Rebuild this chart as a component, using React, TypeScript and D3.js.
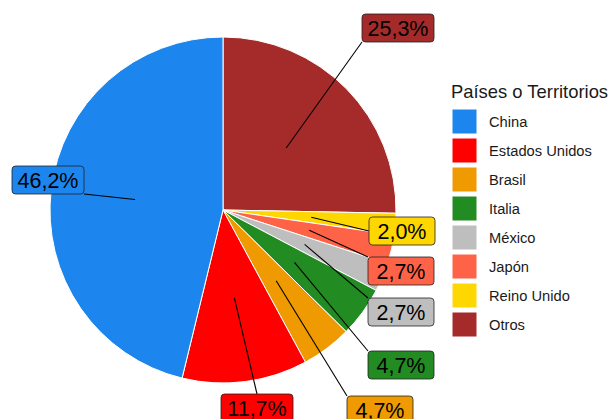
import React, {useEffect, useRef} from 'react';
import * as d3 from 'd3';

// values in percent, in the order the slices go clockwise from 12 o'clock
const countries = ['Otros', 'Reino Unido', 'Japón', 'México', 'Italia', 'Brasil', 'Estados Unidos', 'China'];
const shares = [25.3, 2.0, 2.7, 2.7, 4.7, 4.7, 11.7, 46.2];
const colors = ['#A52A2A', '#FFD700', '#FF6347', '#BEBEBE', '#228B22', '#EE9A00', '#FF0000', '#1C86EE'];
const legendOrder = ['China', 'Estados Unidos', 'Brasil', 'Italia', 'México', 'Japón', 'Reino Unido', 'Otros'];

// where the repelled labels ended up (top-left of each box)
const labelBoxes: Record<string, [number, number]> = {
  'Otros': [362, 14],
  'Reino Unido': [369, 217],
  'Japón': [368, 257],
  'México': [368, 298],
  'Italia': [368, 351],
  'Brasil': [347, 396],
  'Estados Unidos': [221, 394],
  'China': [12, 166],
};

const fmt = (v: number) => v.toFixed(1).replace('.', ',') + '%';

const PieChart = () => {
  const svgRef = useRef<SVGSVGElement>(null);

  useEffect(() => {
    const svg = d3.select(svgRef.current);
    svg.selectAll('*').remove();

    const cx = 223, cy = 210, R = 173;
    const color = d3.scaleOrdinal<string, string>().domain(countries).range(colors);
    const items = countries.map((c, i) => ({name: c, value: shares[i]}));

    const pie = d3.pie<any>().value(d => d.value).sort(null);
    const arc = d3.arc<any>().innerRadius(0).outerRadius(R);
    const arcs = pie(items);

    const g = svg.append('g').attr('transform', `translate(${cx},${cy})`);
    g.selectAll('path')
      .data(arcs)
      .enter()
      .append('path')
      .attr('d', arc)
      .attr('fill', d => color(d.data.name))
      .attr('stroke', 'white')
      .attr('stroke-width', 1);

    // labels with leader lines
    const labArc = d3.arc<any>().innerRadius(R * 0.512).outerRadius(R * 0.512);
    arcs.forEach(a => {
      const [ax0, ay0] = labArc.centroid(a);
      const ax = ax0 + cx, ay = ay0 + cy;
      const txt = fmt(a.data.value);
      const w = txt.length > 4 ? 72 : 66;
      const h = 28;
      const [bx, by] = labelBoxes[a.data.name];
      const ex = ax < bx ? bx : ax > bx + w ? bx + w : bx + w / 2;
      const ey = ay < by ? by : ay > by + h ? by + h : by + h / 2;
      svg.append('line')
        .attr('x1', ax).attr('y1', ay)
        .attr('x2', ex).attr('y2', ey)
        .attr('stroke', 'black')
        .attr('stroke-width', 1.1);
      svg.append('rect')
        .attr('x', bx).attr('y', by)
        .attr('width', w).attr('height', h)
        .attr('rx', 3.5)
        .attr('fill', color(a.data.name))
        .attr('stroke', '#222')
        .attr('stroke-width', 0.8);
      svg.append('text')
        .attr('x', bx + w / 2).attr('y', by + 22)
        .attr('text-anchor', 'middle')
        .attr('font-size', 21.5)
        .attr('fill', 'black')
        .text(txt);
    });

    // legend
    const lg = svg.append('g').attr('transform', 'translate(451,0)');
    lg.append('text')
      .attr('x', 0).attr('y', 98)
      .attr('font-size', 18.4)
      .attr('fill', '#1a1a1a')
      .text('Países o Territorios');
    legendOrder.forEach((name, i) => {
      const y = 109 + i * 29;
      lg.append('rect')
        .attr('x', 1).attr('y', y)
        .attr('width', 25).attr('height', 25)
        .attr('fill', color(name))
        .attr('stroke', 'white')
        .attr('stroke-width', 1);
      lg.append('text')
        .attr('x', 38).attr('y', y + 18)
        .attr('font-size', 14.7)
        .attr('fill', '#1a1a1a')
        .text(name);
    });
  }, []);

  return (
    <svg
      ref={svgRef}
      width={613}
      height={419}
      style={{position: 'absolute', left: 0, top: 0, background: 'white', fontFamily: '"Liberation Sans", Arial, sans-serif'}}
    />
  );
};

export default function App() {
  return <PieChart />;
}
